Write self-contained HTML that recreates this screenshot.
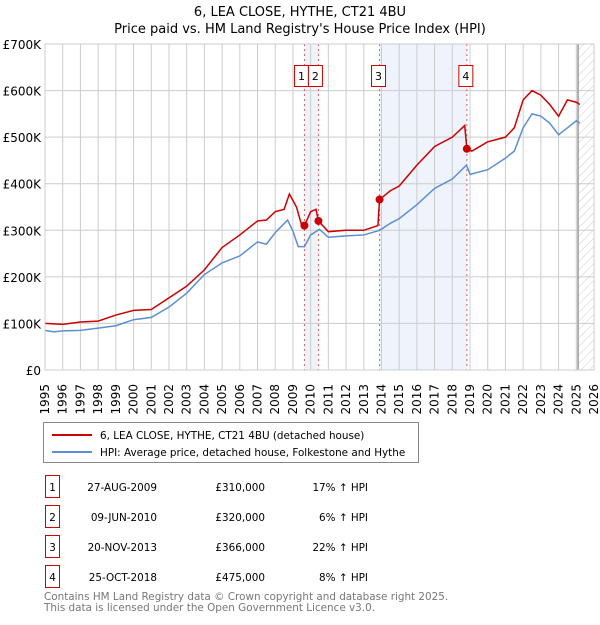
<!DOCTYPE html>
<html><head><meta charset="utf-8"><style>
body{margin:0;background:#fff;font-family:"Liberation Sans","DejaVu Sans",sans-serif;}
svg text{font-family:"DejaVu Sans","Liberation Sans",sans-serif;}
</style></head><body>
<svg id="c" width="600" height="620" xmlns="http://www.w3.org/2000/svg">
<defs><pattern id="h" width="6" height="6" patternUnits="userSpaceOnUse" patternTransform="rotate(45)"><line x1="0" y1="0" x2="0" y2="6" stroke="#ccc" stroke-width="1"/></pattern></defs>
<text x="300" y="16" text-anchor="middle" font-size="13">6, LEA CLOSE, HYTHE, CT21 4BU</text>
<text x="300" y="33" text-anchor="middle" font-size="13">Price paid vs. HM Land Registry's House Price Index (HPI)</text>
<g id="plot"></g>
<g>
<rect x="43.5" y="422.5" width="375" height="40" fill="#fff" stroke="#888"/>
<line x1="52" y1="435" x2="92" y2="435" stroke="#cc0000" stroke-width="2"/>
<text x="100" y="439" font-size="10.4">6, LEA CLOSE, HYTHE, CT21 4BU (detached house)</text>
<line x1="52" y1="452" x2="92" y2="452" stroke="#5b8fd4" stroke-width="2"/>
<text x="100" y="456" font-size="10.4">HPI: Average price, detached house, Folkestone and Hythe</text>
</g>
<g id="tbl" font-size="10.4"></g>
<text x="44" y="600" font-size="10.4" fill="#777">Contains HM Land Registry data © Crown copyright and database right 2025.</text>
<text x="44" y="611" font-size="10.4" fill="#777">This data is licensed under the Open Government Licence v3.0.</text>
</svg>
<script>
const hpiYears=[1995,1995.5,1996,1997,1998,1999,2000,2001,2002,2003,2004,2005,2006,2007,2007.5,2008,2008.7,2009,2009.3,2009.65,2010,2010.5,2011,2012,2013,2013.9,2014.5,2015,2016,2017,2018,2018.8,2019,2020,2021,2021.5,2022,2022.5,2023,2023.5,2024,2024.5,2025,2025.2];
const hpiValues=[85,82,84,85,90,95,108,113,135,165,205,230,245,275,270,295,322,298,265,265,290,302,285,288,290,300,315,325,355,390,410,440,420,430,455,470,520,550,545,530,505,520,535,530];
const priceYears=[1995,1996,1997,1998,1999,2000,2001,2002,2003,2004,2005,2006,2007,2007.5,2008,2008.5,2008.8,2009.2,2009.5,2009.65,2010,2010.3,2010.44,2011,2012,2013,2013.8,2013.89,2014.5,2015,2016,2017,2018,2018.7,2018.82,2019.1,2020,2021,2021.5,2022,2022.5,2023,2023.5,2024,2024.5,2025,2025.2];
const priceValues=[100,98,103,105,118,128,130,155,180,215,263,290,320,322,340,345,378,350,310,310,340,345,320,297,300,300,310,366,385,395,440,480,500,525,475,470,490,500,520,580,600,590,570,545,580,575,570];
const saleYears=[2009.65,2010.44,2013.89,2018.82];
const saleValues=[310,320,366,475];
const saleLabels=["1","2","3","4"];
const saleDates=["27-AUG-2009","09-JUN-2010","20-NOV-2013","25-OCT-2018"];
const salePrices=["£310,000","£320,000","£366,000","£475,000"];
const saleDiffs=["17% ↑ HPI","6% ↑ HPI","22% ↑ HPI","8% ↑ HPI"];
const yTicks=[0,100,200,300,400,500,600,700];
const yTickLabels=["£0","£100K","£200K","£300K","£400K","£500K","£600K","£700K"];
const xStart=1995,xEnd=2026,cutoff=2025.1;
const X=y=>45+(y-xStart)*(549/(xEnd-xStart));
const Y=v=>370-v*(326/700);
const NS="http://www.w3.org/2000/svg";
const g=document.getElementById('plot');
function mk(t,a,p){const e=document.createElementNS(NS,t);for(const k in a)e.setAttribute(k,a[k]);(p||g).appendChild(e);return e;}
let r=mk('rect',{x:X(saleYears[0]),y:Y(700),width:X(saleYears[1])-X(saleYears[0]),height:Y(0)-Y(700),fill:'#eef3fc'});


r=mk('rect',{x:X(saleYears[2]),y:Y(700),width:X(saleYears[3])-X(saleYears[2]),height:Y(0)-Y(700),fill:'#eef3fc'});


r=mk('rect',{x:X(cutoff),y:Y(700),width:X(xEnd)-X(cutoff),height:Y(0)-Y(700),fill:'url(#h)'});


for(let yr=xStart;yr<=xEnd;yr++){
 let l=mk('line',{x1:X(yr),x2:X(yr),y1:Y(700),y2:Y(0),stroke:'#ccc','stroke-width':1});
 
 
 let t=mk('text',{x:0,y:0,'font-size':12,'text-anchor':'end',transform:`translate(${X(yr)+4},384) rotate(-90)`});
 t.textContent=yr;
 
 
}
yTicks.forEach((v,i)=>{
 let l=mk('line',{x1:X(xStart),x2:X(xEnd),y1:Y(v),y2:Y(v),stroke:'#ccc','stroke-width':1});
 
 
 let t=mk('text',{x:41,y:Y(v)+5,'font-size':12,'text-anchor':'end'});
 t.textContent=yTickLabels[i];
 
 
});
let cl=mk('line',{x1:X(cutoff),x2:X(cutoff),y1:Y(700),y2:Y(0),stroke:'#999','stroke-width':1.5});


saleYears.forEach((yr,i)=>{
 let l=mk('line',{x1:X(yr),x2:X(yr),y1:Y(700),y2:Y(0),stroke:'#e06060','stroke-width':1,'stroke-dasharray':'2,3'});
 
 
});
let hp=mk('polyline',{points:hpiYears.map((y,i)=>X(y)+','+Y(hpiValues[i])).join(' '),fill:'none',stroke:'#5b8fd4','stroke-width':1.5});


let pp=mk('polyline',{points:priceYears.map((y,i)=>X(y)+','+Y(priceValues[i])).join(' '),fill:'none',stroke:'#cc0000','stroke-width':1.5});


saleYears.forEach((yr,i)=>{
 let c=mk('circle',{cx:X(yr),cy:Y(saleValues[i]),r:4,fill:'#cc0000'});
 
 
 let bx=X(yr)-8; if(i===0)bx=X(yr)-10; if(i===1)bx=X(yr)-10;
 let b=mk('rect',{x:bx,y:65.5,width:14,height:21,fill:'#fff',stroke:'#cc0000'});
 
 
 let t=mk('text',{x:bx+7,y:80,'font-size':11,'text-anchor':'middle'});
 t.textContent=saleLabels[i];
 
 
});
let f=mk('rect',{x:X(xStart),y:Y(700),width:X(xEnd)-X(xStart),height:Y(0)-Y(700),fill:'none',stroke:'#ccc'});


const tb=document.getElementById('tbl');
saleYears.forEach((yr,i)=>{
 const cy=487+i*30;
 let b=mk('rect',{x:45.5,y:cy-11.5,width:14,height:22,fill:'#fff',stroke:'#cc0000'},tb);
 
 
 let t=mk('text',{x:52.5,y:cy+4,'text-anchor':'middle'},tb);t.textContent=saleLabels[i];
 
 
 t=mk('text',{x:157,y:cy+4,'text-anchor':'end'},tb);t.textContent=saleDates[i];
 
 
 t=mk('text',{x:265,y:cy+4,'text-anchor':'end'},tb);t.textContent=salePrices[i];
 
 
 t=mk('text',{x:368,y:cy+4,'text-anchor':'end'},tb);t.textContent=saleDiffs[i];
 
 
});
</script>
</body></html>
